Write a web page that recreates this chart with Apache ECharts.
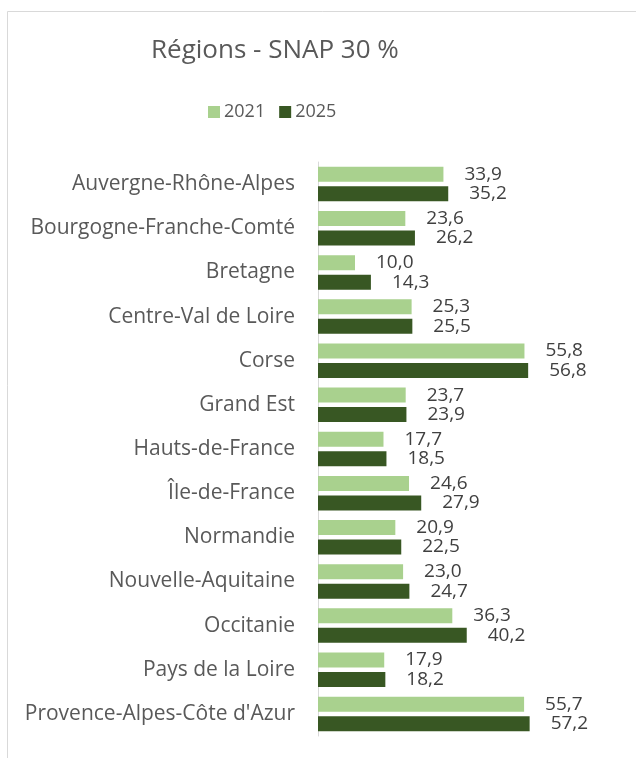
<!DOCTYPE html>
<html>
<head>
<meta charset="utf-8">
<script src="https://cdn.jsdelivr.net/npm/echarts@6/dist/echarts.min.js"></script>
<style>
  html, body { margin: 0; padding: 0; background: #fff; }
  #chart { width: 636px; height: 758px; }
</style>
</head>
<body>
<div id="chart"></div>
<script>
var regions = [
  'Auvergne-Rhône-Alpes', 'Bourgogne-Franche-Comté', 'Bretagne', 'Centre-Val de Loire',
  'Corse', 'Grand Est', 'Hauts-de-France', 'Île-de-France', 'Normandie',
  'Nouvelle-Aquitaine', 'Occitanie', 'Pays de la Loire', "Provence-Alpes-Côte d'Azur"
];
var values2021 = [33.9, 23.6, 10.0, 25.3, 55.8, 23.7, 17.7, 24.6, 20.9, 23.0, 36.3, 17.9, 55.7];
var values2025 = [35.2, 26.2, 14.3, 25.5, 56.8, 23.9, 18.5, 27.9, 22.5, 24.7, 40.2, 18.2, 57.2];

var font = '"Open Sans", "Noto Sans", sans-serif';

function frLabel(p) {
  return p.value.toFixed(1).replace('.', ',');
}

var chart = echarts.init(document.getElementById('chart'));
chart.setOption({
  animation: false,
  backgroundColor: '#fff',
  graphic: [{
    type: 'rect',
    left: 5, top: 9,
    shape: { width: 700, height: 800 },
    style: { fill: 'none', stroke: '#D9D9D9', lineWidth: 1 },
    z: -1
  }],
  title: {
    text: 'Régions - SNAP 30 %',
    left: 146, top: 33,
    textStyle: { fontFamily: font, fontSize: 26, fontWeight: 'normal', color: '#595959' }
  },
  legend: {
    data: ['2021', '2025'],
    left: 203, top: 98,
    itemWidth: 12, itemHeight: 12, itemGap: 14,
    icon: 'rect',
    textStyle: { fontFamily: font, fontSize: 18, color: '#595959', padding: [0, 0, 0, -1] }
  },
  grid: { left: 318, top: 162, width: 259, height: 574, containLabel: false },
  xAxis: {
    type: 'value', min: 0, max: 70,
    show: false,
    splitLine: { show: false }
  },
  yAxis: {
    type: 'category',
    data: regions,
    inverse: true,
    axisLine: { show: true, lineStyle: { color: '#D9D9D9', width: 1 } },
    axisTick: { show: false },
    axisLabel: { fontFamily: font, fontSize: 21, color: '#595959', margin: 23 }
  },
  series: [{
    name: '2021',
    type: 'bar',
    data: values2021,
    barWidth: 15,
    barGap: '30%',
    itemStyle: { color: '#A9D18E' },
    label: { show: true, position: 'right', distance: 21, formatter: frLabel,
      fontFamily: font, fontSize: 19, color: '#404040' }
  }, {
    name: '2025',
    type: 'bar',
    data: values2025,
    barWidth: 15,
    barGap: '30%',
    itemStyle: { color: '#385723' },
    label: { show: true, position: 'right', distance: 21, formatter: frLabel,
      fontFamily: font, fontSize: 19, color: '#404040' }
  }]
});
</script>
</body>
</html>
